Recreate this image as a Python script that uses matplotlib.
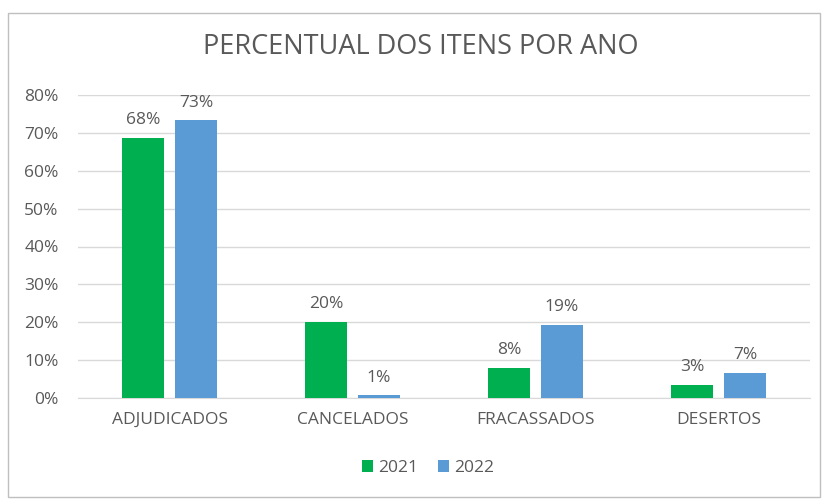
import numpy as np
import matplotlib.pyplot as plt
from matplotlib.patches import Rectangle
from matplotlib.ticker import PercentFormatter

categories = ['ADJUDICADOS', 'CANCELADOS', 'FRACASSADOS', 'DESERTOS']
vals_2021 = [68.6, 20.1, 7.9, 3.4]
vals_2022 = [73.3, 0.7, 19.3, 6.6]
labels_2021 = ['68%', '20%', '8%', '3%']
labels_2022 = ['73%', '1%', '19%', '7%']

plt.rcParams['font.family'] = ['Open Sans', 'DejaVu Sans']
text_color = '#595959'

fig = plt.figure(figsize=(8.22, 4.99), dpi=100)
ax = fig.add_axes([78 / 822, 1 - 398 / 499, 732 / 822, 303 / 499])

x = np.arange(len(categories))
width = 0.225
off = 0.145
b1 = ax.bar(x - off, vals_2021, width, color='#00B050', label='2021', zorder=3)
b2 = ax.bar(x + off, vals_2022, width, color='#5B9BD5', label='2022', zorder=3)

# data labels above each bar
for bars, labs in [(b1, labels_2021), (b2, labels_2022)]:
    for bar, lab in zip(bars, labs):
        ax.annotate(lab, (bar.get_x() + bar.get_width() / 2, bar.get_height()),
                    xytext=(0, 7), textcoords='offset points', ha='center', va='bottom',
                    fontsize=12.5, color=text_color)

ax.set_ylim(0, 80)
ax.set_xlim(-0.5, 3.5)
ax.set_yticks(np.arange(0, 81, 10))
ax.yaxis.set_major_formatter(PercentFormatter(decimals=0))
ax.set_xticks(x)
ax.set_xticklabels(categories)
ax.tick_params(axis='both', length=0, labelsize=12.5, colors=text_color)
ax.tick_params(axis='x', pad=10)
ax.tick_params(axis='y', pad=14)
ax.grid(axis='y', color='#D9D9D9', linewidth=1, zorder=0)
for s in ['top', 'right', 'left']:
    ax.spines[s].set_visible(False)
ax.spines['bottom'].set_color('#D9D9D9')

fig.text(0.5 + 10 / 822, 1 - 47 / 499, 'PERCENTUAL DOS ITENS POR ANO', ha='center', va='center',
         fontsize=19.5, color=text_color)

fig.legend(handles=[b1, b2], loc='center', bbox_to_anchor=(428 / 822, 1 - 468 / 499),
           ncol=2, frameon=False, fontsize=12.5, labelcolor=text_color,
           handlelength=0.65, handleheight=0.65, handletextpad=0.3, columnspacing=1.1)

# chart border
fig.patches.append(Rectangle((8 / 822, 1 - 497 / 499), 812 / 822, 484 / 499,
                             transform=fig.transFigure, fill=False, edgecolor='#BFBFBF', linewidth=1))

fig.savefig('out.png', dpi=100)
